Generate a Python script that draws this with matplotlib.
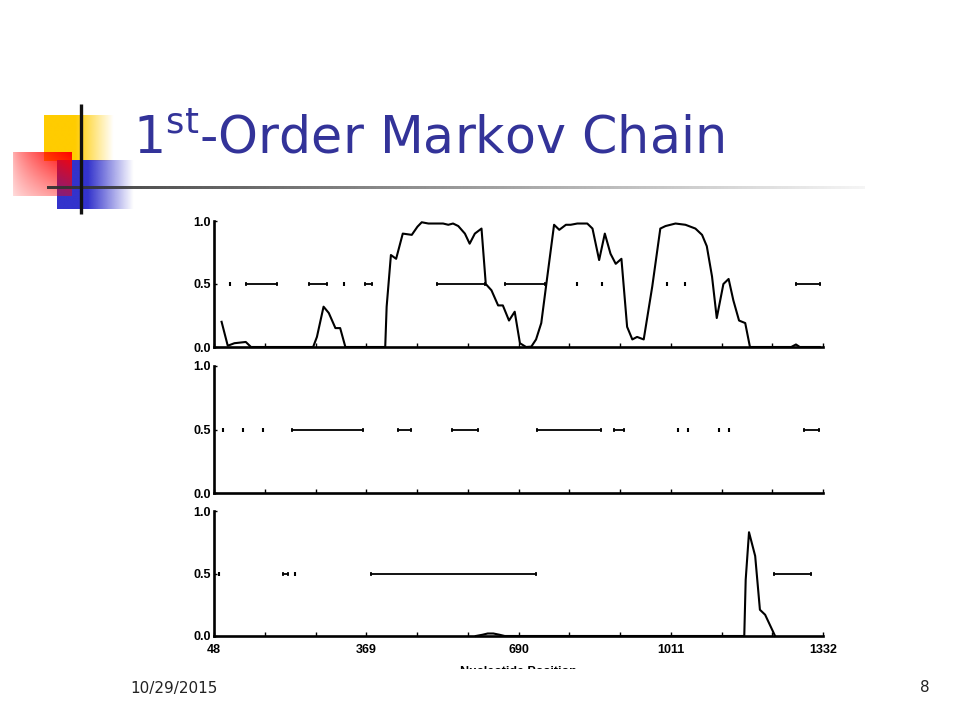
import numpy as np
import matplotlib
matplotlib.use("Agg")
import matplotlib.pyplot as plt
from matplotlib.patches import Rectangle

# donnees (position en nucleotides, probabilite)
pos_1 = [64, 77, 91, 115, 126, 257, 265, 279, 290, 304, 314, 325, 409, 412, 421, 432,
         446, 465, 477, 486, 500, 510, 531, 542, 552, 563, 577, 587, 598, 612, 621, 633,
         647, 657, 670, 682, 693, 706, 717, 727, 738, 748, 765, 776, 790, 800, 814, 835,
         846, 860, 872, 884, 895, 907, 919, 930, 940, 954, 972, 989, 1000, 1021, 1042,
         1063, 1077, 1087, 1098, 1108, 1122, 1133, 1143, 1155, 1168, 1178, 1265, 1275,
         1283, 1325]
prob_1 = [0.20, 0.01, 0.03, 0.04, 0.0, 0.0, 0.08, 0.32, 0.27, 0.15, 0.15, 0.0, 0.0, 0.32,
          0.73, 0.70, 0.90, 0.89, 0.955, 0.99, 0.98, 0.98, 0.98, 0.97, 0.98, 0.96, 0.90,
          0.82, 0.90, 0.94, 0.50, 0.45, 0.33, 0.33, 0.21, 0.28, 0.03, 0.0, 0.003, 0.06,
          0.19, 0.48, 0.97, 0.93, 0.97, 0.97, 0.98, 0.98, 0.94, 0.69, 0.90, 0.74, 0.66,
          0.70, 0.16, 0.06, 0.08, 0.06, 0.48, 0.94, 0.96, 0.98, 0.97, 0.94, 0.89, 0.80,
          0.56, 0.23, 0.50, 0.54, 0.37, 0.21, 0.19, 0.0, 0.0, 0.02, 0.0, 0.0]
seg_debut_1 = [115, 249, 367, 518, 661, 1275]
seg_fin_1 = [180, 287, 382, 619, 745, 1325]
points_1 = [82, 323, 814, 866, 1003, 1040]

pos_2 = []
prob_2 = []
seg_debut_2 = [212, 436, 549, 728, 891, 1292]
seg_fin_2 = [363, 463, 604, 864, 912, 1323]
points_2 = [66, 110, 152, 1026, 1047, 1112, 1133]

pos_3 = [600, 614, 625, 637, 650, 661, 1166, 1169, 1176, 1189, 1199, 1210, 1231]
prob_3 = [0.0, 0.01, 0.02, 0.02, 0.01, 0.0, 0.0, 0.45, 0.83, 0.64, 0.21, 0.17, 0.0]
seg_debut_3 = [193, 379, 1229]
seg_fin_3 = [203, 726, 1307]
points_3 = [58, 218]

ticks_labels = [48, 369, 690, 1011, 1332]
ticks_mineurs = [155, 262, 476, 583, 797, 904, 1118, 1225]

panneaux = [
    (pos_1, prob_1, seg_debut_1, seg_fin_1, points_1),
    (pos_2, prob_2, seg_debut_2, seg_fin_2, points_2),
    (pos_3, prob_3, seg_debut_3, seg_fin_3, points_3),
]

fig = plt.figure(figsize=(9.6, 7.2), dpi=100)
fig.patch.set_facecolor("white")

# decor de la diapositive (coordonnees en pixels)
deco = fig.add_axes([0, 0, 1, 1], zorder=0)
deco.set_xlim(0, 960)
deco.set_ylim(720, 0)
deco.axis("off")

def degrade(couleur, alpha, extent):
    img = np.zeros(alpha.shape + (4,))
    img[..., :3] = couleur
    img[..., 3] = np.clip(alpha, 0, 1)
    deco.imshow(img, extent=extent, origin="upper", aspect="auto", interpolation="bilinear")

u = np.linspace(0, 1, 120)[None, :]
v = np.linspace(0, 1, 60)[:, None]
# jaune
a_j = np.clip((1 - u) / 0.55, 0, 1) * np.ones_like(v)
degrade((1.0, 0.8, 0.0), a_j, (44, 114, 161, 115))
# bleu
a_b = np.clip((1 - u) / 0.6, 0, 1) * np.ones_like(v)
degrade((0.2, 0.2, 0.8), a_b, (57, 134, 209, 160))
# rouge
a_r = (0.3 + 0.7 * u ** 0.7) * (1 - 0.55 * v)
degrade((1.0, 0.0, 0.0), a_r, (13, 72, 196, 152))
deco.plot([81, 81], [104, 214], color="#111111", lw=2.4, solid_capstyle="butt")
a_l = np.linspace(0.95, 0.05, 300)[None, :]
degrade((0.2, 0.2, 0.2), a_l, (47, 865, 189.5, 186.5))

fig.text(133 / 960, 1 - 140 / 720, r"1$^{\mathrm{st}}$-Order Markov Chain", fontsize=36.5,
         color="#333399", family="DejaVu Sans", va="center", ha="left")
fig.text(130 / 960, 1 - 688 / 720, "10/29/2015", fontsize=11, color="#222222",
         va="center", ha="left")
fig.text(930 / 960, 1 - 688 / 720, "8", fontsize=11, color="#222222",
         va="center", ha="right")

bas = [347, 493, 636]
haut = [221, 366, 511]
for i, (px, py, sd, sf, pts) in enumerate(panneaux):
    ax = fig.add_axes([214 / 960, 1 - bas[i] / 720, (823 - 214) / 960,
                       (bas[i] - haut[i]) / 720], zorder=2)
    ax.patch.set_alpha(0)
    if px:
        ax.plot(px, py, color="black", lw=1.5, clip_on=False)
    for d, f in zip(sd, sf):
        ax.plot([d, f], [0.5, 0.5], color="black", lw=1.3)
        ax.plot([d, f], [0.5, 0.5], ls="none", marker="|", ms=3.5, mew=1.2, color="black")
    ax.plot(pts, [0.5] * len(pts), ls="none", marker="|", ms=3.5, mew=1.5, color="black")
    ax.set_xlim(48, 1332)
    ax.set_ylim(0, 1)
    ax.spines["top"].set_visible(False)
    ax.spines["right"].set_visible(False)
    ax.spines["left"].set_linewidth(1.9)
    ax.spines["bottom"].set_linewidth(1.9)
    ax.set_yticks([0, 0.5, 1.0])
    ax.set_yticklabels(["0.0", "0.5", "1.0"], fontsize=9, fontweight="bold",
                       family="Liberation Sans")
    ax.set_xticks(ticks_labels)
    ax.set_xticks(ticks_mineurs, minor=True)
    ax.tick_params(axis="x", which="both", direction="in", length=3, width=1, pad=6)
    ax.tick_params(axis="y", direction="in", length=2, width=1, pad=2)
    if i < 2:
        ax.set_xticklabels([])
    else:
        ax.set_xticklabels([str(t) for t in ticks_labels], fontsize=9, fontweight="bold",
                           family="Liberation Sans")

fig.text(518 / 960, 1 - 672 / 720, "Nucleotide Position", fontsize=9, fontweight="bold",
         family="Liberation Sans", ha="center", va="center")
fig.patches.append(Rectangle((180 / 960, 1 - 680 / 720), 680 / 960, 11 / 720,
                             transform=fig.transFigure, facecolor="white",
                             edgecolor="none", zorder=5))

fig.savefig("out.png", dpi=100)
